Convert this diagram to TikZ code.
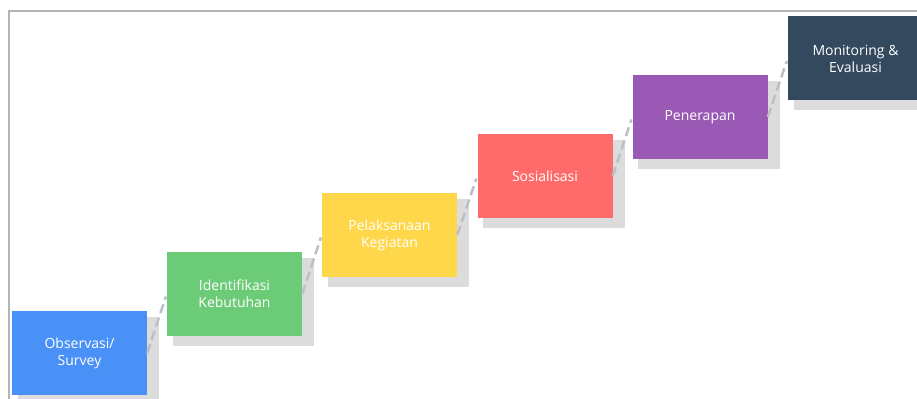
\documentclass[tikz,border=0pt]{standalone}
\usepackage{fontspec}
\setmainfont{Open Sans}
\usetikzlibrary{shadows}
\definecolor{obsblue}{HTML}{4A91F7}
\definecolor{idgreen}{HTML}{6CCB77}
\definecolor{plyellow}{HTML}{FFD74A}
\definecolor{sosred}{HTML}{FF6B6B}
\definecolor{penpurple}{HTML}{9B59B6}
\definecolor{monslate}{HTML}{34495E}
\definecolor{shadowgray}{HTML}{DCDCDC}
\definecolor{dashgray}{HTML}{BCC0C5}
\definecolor{framegray}{HTML}{B4B4B4}
\tikzset{
  stepbox/.style={rectangle, minimum width=101.25pt, minimum height=63pt,
    text=white, align=center, font=\fontsize{10.5}{12.8}\selectfont,
    general shadow={fill=shadowgray, shadow xshift=6.5pt, shadow yshift=-5.5pt, shadow scale=1.05}},
  linkline/.style={draw=dashgray, line width=1.9pt, dash pattern=on 7pt off 3.5pt, shorten <=0pt, shorten >=2pt}
}
\begin{document}
\begin{tikzpicture}[x=0.75pt, y=-0.75pt]
  \useasboundingbox (0,0) rectangle (917,399);
  \draw[framegray, line width=1.1pt] (9,399) |- (917,11);
  \path
    (79.5,353) node[stepbox, fill=obsblue] (obs) {Observasi/\\Survey}
    (234.5,294) node[stepbox, fill=idgreen] (ident) {Identifikasi\\Kebutuhan}
    (389.5,235) node[stepbox, fill=plyellow] (pelaks) {Pelaksanaan\\Kegiatan}
    (545,176) node[stepbox, fill=sosred] (sosial) {Sosialisasi}
    (700,117) node[stepbox, fill=penpurple] (terap) {Penerapan}
    (855.5,58.5) node[stepbox, fill=monslate] (monev) {Monitoring \&\\Evaluasi};
  \begin{scope}[linkline]
    \draw (obs.east) to (ident.west);
    \draw (ident.east) to (pelaks.west);
    \draw (pelaks.east) to (sosial.west);
    \draw (sosial.east) to (terap.west);
    \draw (terap.east) to (monev.west);
  \end{scope}
\end{tikzpicture}
\end{document}
